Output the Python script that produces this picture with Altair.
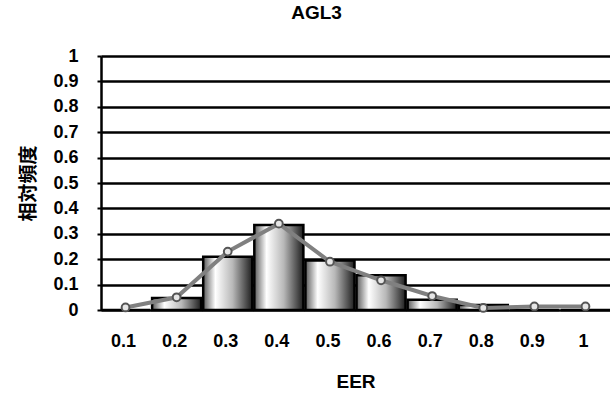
import altair as alt
import pandas as pd

categories = ["0.1", "0.2", "0.3", "0.4", "0.5", "0.6", "0.7", "0.8", "0.9", "1"]
bar_values = [0.0, 0.047, 0.21, 0.335, 0.195, 0.137, 0.04, 0.02, 0.0, 0.0]
line_values = [0.01, 0.05, 0.23, 0.34, 0.19, 0.117, 0.055, 0.008, 0.014, 0.014]
y_ticks = [0, 0.1, 0.2, 0.3, 0.4, 0.5, 0.6, 0.7, 0.8, 0.9, 1]

df = pd.DataFrame({"cat": categories, "bar": bar_values, "line": line_values})

FONT = "Liberation Sans"

xaxis = alt.Axis(title="EER", labelAngle=0, ticks=False, domain=False,
                 labelPadding=22, titlePadding=22, labelOffset=-2,
                 labelFont=FONT, labelFontSize=18, labelFontWeight="bold",
                 titleFont=FONT, titleFontSize=19, titleFontWeight="bold",
                 labelColor="#000", titleColor="#000")
xscale = alt.Scale(paddingInner=0.04, paddingOuter=0.0)

yaxis = alt.Axis(title="相対頻度", values=y_ticks, format="~g",
                 labelOverlap=False,
                 grid=True, gridColor="#000", gridWidth=2.5, gridOpacity=1,
                 domainColor="#000", domainWidth=2.5,
                 tickColor="#000", tickSize=4, tickWidth=2,
                 labelPadding=19,
                 labelFont=FONT, labelFontSize=18, labelFontWeight="bold",
                 titleFont="Noto Sans CJK JP", titleFontSize=19, titleFontWeight="bold",
                 titlePadding=14,
                 labelColor="#000", titleColor="#000")
yscale = alt.Scale(domain=[0, 1], nice=False)

bars = alt.Chart(df).mark_bar(
    stroke="#000", strokeWidth=2.5,
    color=alt.Gradient(
        gradient="linear", x1=0, x2=1, y1=0, y2=0,
        stops=[alt.GradientStop(offset=0, color="#5a5a5a"),
               alt.GradientStop(offset=0.25, color="#ffffff"),
               alt.GradientStop(offset=0.6, color="#b8b8b8"),
               alt.GradientStop(offset=1, color="#1e1e1e")])
).encode(
    x=alt.X("cat:N", sort=categories, scale=xscale, axis=xaxis),
    y=alt.Y("bar:Q", scale=yscale, axis=yaxis),
)

line = alt.Chart(df).mark_line(color="#808080", strokeWidth=4).encode(
    x=alt.X("cat:N", sort=categories, scale=xscale, axis=xaxis),
    y=alt.Y("line:Q", scale=yscale, axis=yaxis),
)

points = alt.Chart(df).mark_point(
    shape="circle", size=60, filled=True, fill="#e6e6e6",
    stroke="#555", strokeWidth=2, opacity=1
).encode(
    x=alt.X("cat:N", sort=categories, scale=xscale, axis=xaxis),
    y=alt.Y("line:Q", scale=yscale, axis=yaxis),
)

chart = alt.layer(bars, line, points).properties(
    width=509, height=254,
    title=alt.TitleParams("AGL3", font=FONT, fontSize=19, fontWeight="bold",
                          color="#000", offset=24, dx=-39),
    autosize=alt.AutoSizeParams(type="none"),
    padding={"left": 101, "top": 56, "right": 0, "bottom": 83},
).configure_view(stroke=None).configure(background="#ffffff")

chart.save("out.html", embed_options={"renderer": "svg", "actions": False})
